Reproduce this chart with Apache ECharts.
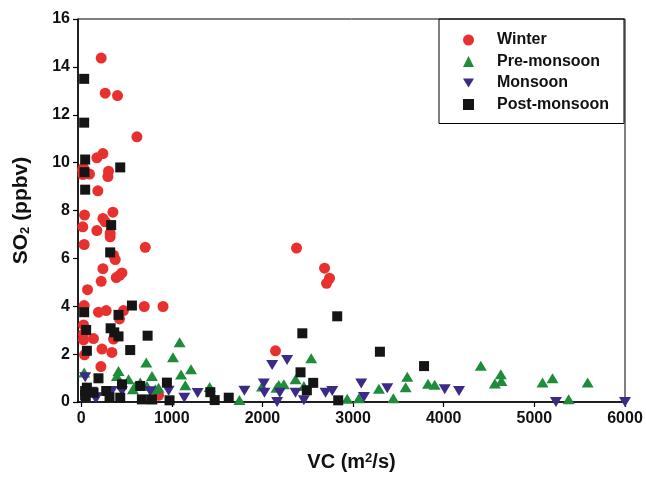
<!DOCTYPE html>
<html>
<head>
<meta charset="utf-8">
<script src="https://cdn.jsdelivr.net/npm/echarts@6/dist/echarts.min.js"></script>
<style>html,body{margin:0;padding:0;background:#fff}#c{width:646px;height:482px}</style>
</head>
<body>
<div id="c"></div>
<script>
var xTicks = [0, 1000, 2000, 3000, 4000, 5000, 6000];
var yTicks = [0, 2, 4, 6, 8, 10, 12, 14, 16];
var seriesNames = ['Winter', 'Pre-monsoon', 'Monsoon', 'Post-monsoon'];

var winter = [[221,14.37],[265,12.9],[401,12.8],[615,11.08],[240,10.38],[173,10.2],[26,9.78],[302,9.64],[295,9.42],[92,9.52],[20,9.5],[15,9.7],
  [184,8.82],[37,7.81],[240,7.67],[350,7.93],[265,7.53],[18,7.32],[173,7.16],[320,7.05],[320,6.9],[33,6.58],[707,6.46],[357,6.13],[376,5.95],
  [240,5.57],[450,5.39],[423,5.29],[387,5.2],[221,5.04],[70,4.69],[33,4.03],[696,3.99],[903,3.99],[191,3.75],[276,3.82],[467,3.82],[423,3.47],
  [26,3.22],[26,2.84],[26,2.6],[136,2.65],[357,2.63],[229,2.21],[339,2.07],[37,1.97],[218,1.48],[854,0.28],
  [2144,2.14],[2376,6.43],[2685,5.59],[2707,4.96],[2740,5.17]];
var premonsoon = [[33,1.23],[412,1.3],[394,1.09],[523,0.95],[718,1.65],[781,1.09],[597,0.67],[725,0.67],[854,0.6],[571,0.53],[818,0.53],[652,0.81],
  [781,0.11],[1086,2.5],[1013,1.87],[1212,1.37],[1102,1.15],[1149,0.7],[1418,0.63],[1746,0.08],[1996,0.65],[2155,0.6],[2180,0.71],[2236,0.74],
  [2365,0.95],[2457,0.67],[2538,1.83],[2935,0.14],[3064,0.16],[3285,0.55],[3444,0.16],[3598,1.05],[3580,0.62],[3827,0.76],[3900,0.72],
  [4409,1.51],[4630,1.16],[4637,0.88],[4564,0.77],[5090,0.81],[5200,0.99],[5588,0.81],[5378,0.11]];
var monsoon = [[44,1.03],[155,0.18],[173,0.2],[118,0.43],[339,0.46],[302,0.46],[450,0.45],[762,0.45],[965,0.47],[1138,0.18],[1285,0.38],
  [1801,0.47],[2015,0.77],[2022,0.39],[2107,1.55],[2272,1.75],[2191,0.39],[2162,0],[2365,0.39],[2457,0.07],[2696,0.39],[2770,0.46],
  [3090,0.77],[3120,0.21],[3377,0.57],[4011,0.53],[4169,0.46],[5238,0],[6000,0]];
var postmonsoon = [[33,13.5],[33,11.67],[44,10.13],[431,9.8],[37,9.6],[44,8.87],[331,7.39],[320,6.25],[560,4.03],[33,3.75],[412,3.64],[55,3.01],
  [325,3.08],[365,2.91],[412,2.74],[733,2.77],[63,2.14],[541,2.17],[191,0.99],[63,0.6],[44,0.46],[44,0.29],[50,0.25],[136,0.39],[276,0.46],[313,0.2],
  [450,0.74],[431,0.18],[652,0.67],[670,0.11],[781,0.11],[946,0.81],[975,0.07],[1425,0.41],[1473,0.08],[1628,0.18],[2825,3.58],[2440,2.87],
  [3296,2.1],[3783,1.5],[2420,1.24],[2560,0.8],[2490,0.49],[2836,0.07]];

var FONT = 'Liberation Sans, Arial, sans-serif';
var COLORS = ['#e8312f', '#1f8c3b', '#3b2a87', '#151515'];
var ICONS = ['circle', 'triangle', 'path://M0,0L12,0L6,10Z', 'rect'];
var chart = echarts.init(document.getElementById('c'), null, {renderer: 'canvas'});
chart.setOption({
  animation: false,
  backgroundColor: '#fff',
  grid: {left: 78, right: 21, top: 19, bottom: 80, show: true, borderColor: '#000', borderWidth: 1, backgroundColor: 'transparent'},
  legend: {
    orient: 'vertical', left: 439, top: 19,
    data: seriesNames.map(function (n, i) { return {name: n, icon: ICONS[i]}; }),
    borderColor: '#000', borderWidth: 1, borderRadius: 0,
    padding: [13, 15, 11, 24],
    itemWidth: 11, itemHeight: 11, itemGap: 5.5,
    textStyle: {fontFamily: FONT, fontWeight: 'bold', fontSize: 16, color: '#111', lineHeight: 16, padding: [0, 0, 0, 18]}
  },
  xAxis: {
    type: 'value', min: -35, max: 6000,
    name: 'VC (m{sup|2}/s)', nameLocation: 'middle', nameGap: 50,
    nameTextStyle: {fontFamily: FONT, fontWeight: 'bold', fontSize: 20, color: '#111',
      rich: {sup: {fontFamily: FONT, fontWeight: 'bold', fontSize: 13, color: '#111', verticalAlign: 'top', padding: [0, 0, 8, 0]}}},
    axisLine: {show: true, onZero: false, lineStyle: {color: '#000', width: 1.5}},
    axisTick: {show: true, inside: false, length: 5, customValues: xTicks, lineStyle: {color: '#000', width: 1.2}},
    axisLabel: {customValues: xTicks, margin: 9, fontFamily: FONT, fontWeight: 'bold', fontSize: 16, color: '#111',
      formatter: function (v) { return String(v); }},
    splitLine: {show: false}
  },
  yAxis: {
    type: 'value', min: 0, max: 16, interval: 2,
    name: 'SO{sub|2} (ppbv)', nameLocation: 'middle', nameGap: 46, nameRotate: 90,
    nameTextStyle: {fontFamily: FONT, fontWeight: 'bold', fontSize: 21, color: '#111',
      rich: {sub: {fontFamily: FONT, fontWeight: 'bold', fontSize: 13, color: '#111', verticalAlign: 'bottom', padding: [8, 0, 0, 0]}}},
    axisLine: {show: true, onZero: false, lineStyle: {color: '#000', width: 1.5}},
    axisTick: {show: true, inside: false, length: 5, lineStyle: {color: '#000', width: 1.2}},
    axisLabel: {margin: 8, fontFamily: FONT, fontWeight: 'bold', fontSize: 16, color: '#111',
      formatter: function (v) { return String(v); }},
    splitLine: {show: false}
  },
  series: [
    {name: seriesNames[0], type: 'scatter', data: winter, symbol: 'circle', symbolSize: 11,
      itemStyle: {color: COLORS[0], opacity: 1}, z: 2},
    {name: seriesNames[1], type: 'scatter', data: premonsoon, symbol: 'triangle', symbolSize: [12, 10],
      itemStyle: {color: COLORS[1], opacity: 1}, z: 3},
    {name: seriesNames[2], type: 'scatter', data: monsoon, symbol: 'triangle', symbolRotate: 180, symbolSize: [12, 10],
      itemStyle: {color: COLORS[2], opacity: 1}, z: 4},
    {name: seriesNames[3], type: 'scatter', data: postmonsoon, symbol: 'rect', symbolSize: 10,
      itemStyle: {color: COLORS[3], opacity: 1}, z: 5}
  ]
});
</script>
</body>
</html>
